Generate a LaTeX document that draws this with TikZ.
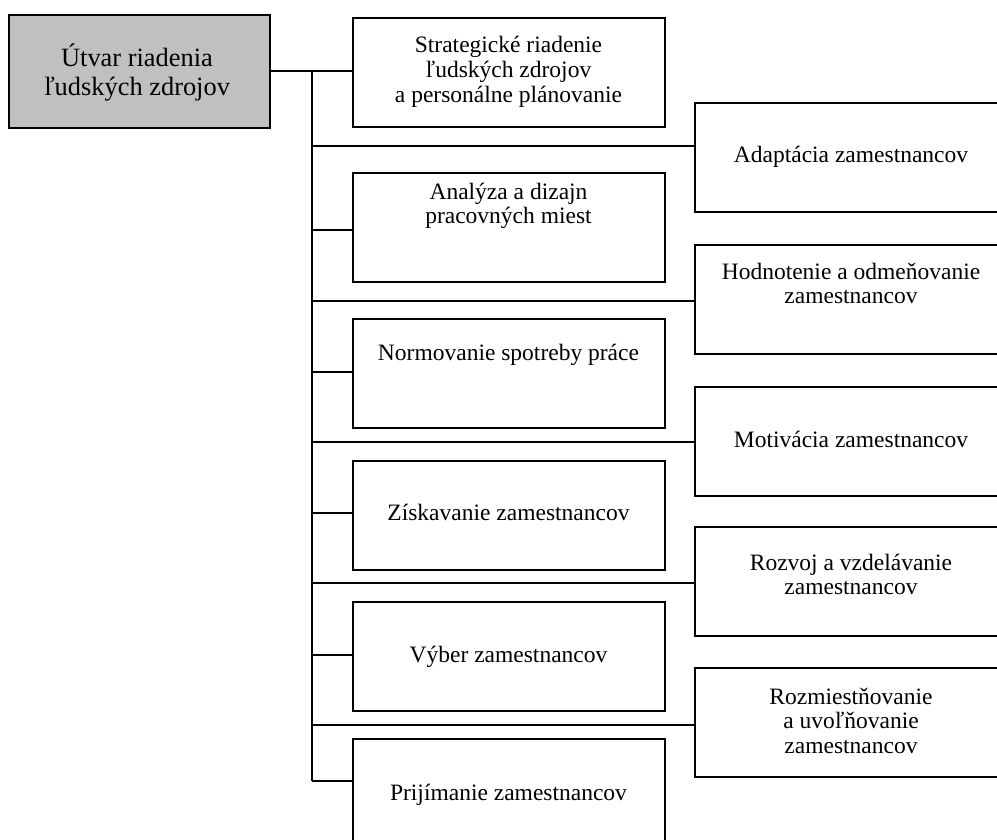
\documentclass[tikz,border=0pt]{standalone}
\usepackage{fontspec}
\setmainfont{Liberation Serif}
\newcommand{\tsm}{\rule{0pt}{23.5pt}}
\newcommand{\tbg}{\rule{0pt}{26.4pt}}
\definecolor{boxgray}{HTML}{C0C0C0}
\tikzset{
  box/.style={draw, line width=1.9pt, minimum width=312pt, minimum height=109pt, inner sep=0pt},
  txt/.style={anchor=north, align=center, inner sep=0pt, font=\fontsize{23.5}{24.2}\selectfont},
  bigtxt/.style={anchor=north, align=center, inner sep=0pt, font=\fontsize{26.4}{29}\selectfont},
  conn/.style={line width=1.9pt}
}
\begin{document}
\begin{tikzpicture}[x=1pt,y=-1pt]
\useasboundingbox (0,0) rectangle (997,840);
\clip (0,0) rectangle (997,840);
\fill[white] (0,0) rectangle (997,840);
% main box
\node[draw, line width=1.9pt, fill=boxgray, minimum width=261pt, minimum height=113pt, inner sep=0pt] (M) at (139.5,71.5) {};
\node[bigtxt] (tM) at (137,39.6) {\tbg Útvar riadenia\\ľudských zdrojov};
% left column
\node[box] (L1) at (509,72.5) {};
\node[box] (L2) at (509,227.5) {};
\node[box] (L3) at (509,373.5) {};
\node[box] (L4) at (509,515.5) {};
\node[box] (L5) at (509,656.5) {};
\node[box] (L6) at (509,793.5) {};
% right column
\node[box] (R1) at (851,157.5) {};
\node[box] (R2) at (851,299.5) {};
\node[box] (R3) at (851,441.5) {};
\node[box] (R4) at (851,581.5) {};
\node[box] (R5) at (851,722.5) {};
% texts
\node[txt] (tL1) at (508.5,28.5) {\tsm Strategické riadenie\\[1pt]ľudských zdrojov\\[1pt]a personálne plánovanie};
\node[txt] (tL2) at (508.5,175.5) {\tsm Analýza a dizajn\\pracovných miest};
\node[txt] (tL3) at (508.5,336.5) {\tsm Normovanie spotreby práce};
\node[txt] (tL4) at (508.5,497.2) {\tsm Získavanie zamestnancov};
\node[txt] (tL5) at (508.5,639.2) {\tsm Výber zamestnancov};
\node[txt] (tL6) at (508.5,776.5) {\tsm Prijímanie zamestnancov};
\node[txt] (tR1) at (851,138.5) {\tsm Adaptácia zamestnancov};
\node[txt] (tR2) at (851,255.5) {\tsm Hodnotenie a odmeňovanie\\zamestnancov};
\node[txt] (tR3) at (851,424) {\tsm Motivácia zamestnancov};
\node[txt] (tR4) at (851,546.5) {\tsm Rozvoj a vzdelávanie\\zamestnancov};
\node[txt] (tR5) at (851,681) {\tsm Rozmiestňovanie\\a uvoľňovanie\\zamestnancov};
% trunk coordinates
\coordinate (t0) at (312,71);
\coordinate (a1) at (312,146);
\coordinate (b2) at (312,230);
\coordinate (a2) at (312,301);
\coordinate (b3) at (312,372);
\coordinate (a3) at (312,442);
\coordinate (b4) at (312,513);
\coordinate (a4) at (312,583);
\coordinate (b5) at (312,655);
\coordinate (a5) at (312,725);
\coordinate (b6) at (312,781);
% connectors
\draw[conn] (M.east |- t0) -- (t0 -| L1.west);
\draw[conn] (t0) -- (b6);
\draw[conn] (a1) -- (a1 -| R1.west);
\draw[conn] (a2) -- (a2 -| R2.west);
\draw[conn] (a3) -- (a3 -| R3.west);
\draw[conn] (a4) -- (a4 -| R4.west);
\draw[conn] (a5) -- (a5 -| R5.west);
\draw[conn] (b2) -- (b2 -| L2.west);
\draw[conn] (b3) -- (b3 -| L3.west);
\draw[conn] (b4) -- (b4 -| L4.west);
\draw[conn] (b5) -- (b5 -| L5.west);
\draw[conn] (b6) -- (b6 -| L6.west);
\end{tikzpicture}
\end{document}
